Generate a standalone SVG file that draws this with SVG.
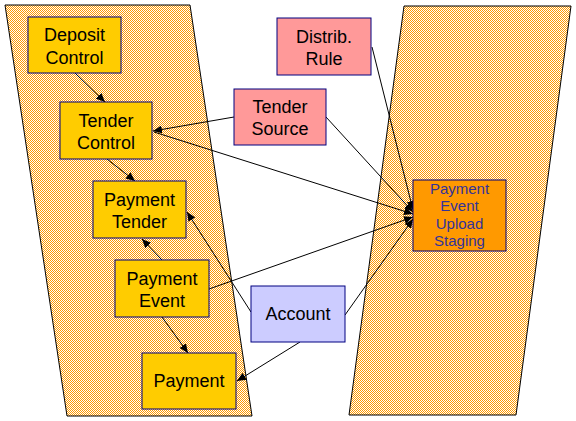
<svg xmlns="http://www.w3.org/2000/svg" width="576" height="421" viewBox="0 0 576 421">
<style>
text{font-family:"Liberation Sans",Arial,sans-serif;font-size:18px;text-anchor:middle;fill:#000}
.lane{fill:url(#hatch);stroke:#000;stroke-width:1}
.box rect{stroke:#000080;stroke-width:1}
.y{fill:#FFCC00}
.p{fill:#FF9999}
.a{fill:#CCCCFF}
.o{fill:#FF9900}
.st{font-size:15px;fill:#333399}
.conn line{stroke:#000;stroke-width:1;fill:none}
</style>
<defs>
<pattern id="hatch" width="2" height="2" patternUnits="userSpaceOnUse">
<rect width="2" height="2" fill="#FFFFFF"/>
<rect width="1" height="1" fill="#FF9900"/>
<rect x="1" y="1" width="1" height="1" fill="#FF9900"/>
</pattern>
<marker id="arr" markerWidth="9" markerHeight="8" refX="9" refY="4" orient="auto" markerUnits="userSpaceOnUse">
<path d="M0,0 L9,4 L0,8 z" fill="#000"/>
</marker>
</defs>
<polygon class="lane" points="5,5 190,5 252,416 67,416"/>
<polygon class="lane" points="404,6 571,6 516,415 349,415"/>
<g class="conn">
<line x1="75" y1="73" x2="105" y2="102" marker-end="url(#arr)"/>
<line x1="107" y1="159" x2="135" y2="181" marker-end="url(#arr)"/>
<line x1="234" y1="117" x2="153" y2="131" marker-end="url(#arr)"/>
<line x1="154" y1="132" x2="413" y2="214" marker-end="url(#arr)"/>
<line x1="326" y1="117" x2="413" y2="212" marker-end="url(#arr)"/>
<line x1="372" y1="47" x2="413" y2="210" marker-end="url(#arr)"/>
<line x1="209" y1="289" x2="413" y2="217" marker-end="url(#arr)"/>
<line x1="345" y1="315" x2="413" y2="219" marker-end="url(#arr)"/>
<line x1="251" y1="312" x2="187" y2="212" marker-end="url(#arr)"/>
<line x1="162" y1="260" x2="142" y2="239" marker-end="url(#arr)"/>
<line x1="162" y1="317" x2="188" y2="353" marker-end="url(#arr)"/>
<line x1="300" y1="342" x2="237" y2="381" marker-end="url(#arr)"/>
</g>
<g id="deposit-control" class="box"><rect class="y" x="28" y="17" width="93" height="56"/><text x="74.5" y="41">Deposit</text><text x="74.5" y="63.5">Control</text></g>
<g id="tender-control" class="box"><rect class="y" x="60" y="102" width="92" height="57"/><text x="106" y="127">Tender</text><text x="106" y="149">Control</text></g>
<g id="payment-tender" class="box"><rect class="y" x="93" y="181" width="93" height="57"/><text x="139.5" y="206">Payment</text><text x="139.5" y="228">Tender</text></g>
<g id="payment-event" class="box"><rect class="y" x="115" y="260" width="94" height="57"/><text x="162" y="285">Payment</text><text x="162" y="307">Event</text></g>
<g id="payment" class="box"><rect class="y" x="142" y="353" width="94" height="56"/><text x="189" y="387">Payment</text></g>
<g id="distrib-rule" class="box"><rect class="p" x="277" y="18" width="94" height="57"/><text x="324" y="43">Distrib.</text><text x="324" y="65">Rule</text></g>
<g id="tender-source" class="box"><rect class="p" x="234" y="89" width="92" height="56"/><text x="280" y="113">Tender</text><text x="280" y="135">Source</text></g>
<g id="account" class="box"><rect class="a" x="251" y="286" width="94" height="56"/><text x="298" y="320">Account</text></g>
<g id="payment-event-upload-staging" class="box"><rect class="o" x="413" y="180" width="93" height="71"/><text class="st" x="459.5" y="193.5">Payment</text><text class="st" x="459.5" y="211">Event</text><text class="st" x="459.5" y="228.5">Upload</text><text class="st" x="459.5" y="246">Staging</text></g>
</svg>
